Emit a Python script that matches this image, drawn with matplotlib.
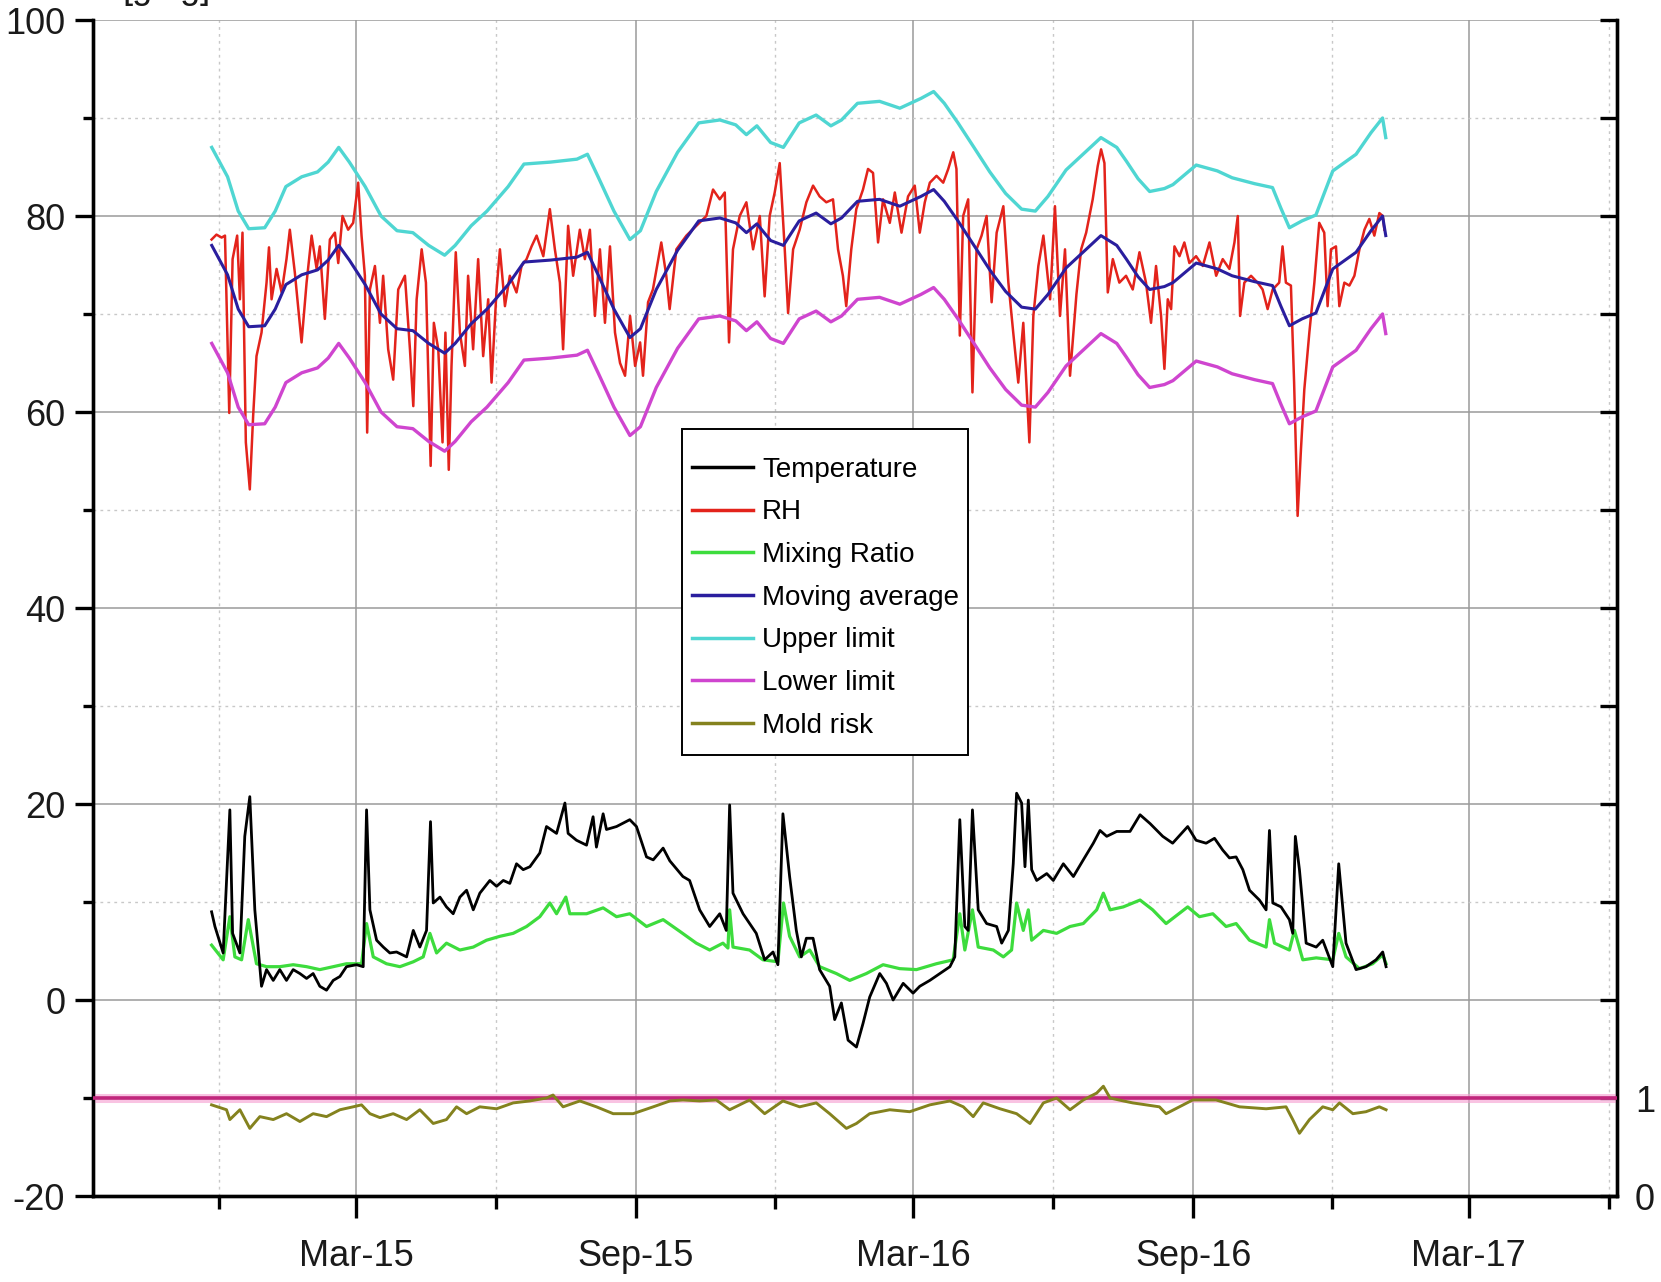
import numpy as np
import pandas as pd
import matplotlib
matplotlib.use("Agg")
import matplotlib.pyplot as plt
import matplotlib.dates as mdates
from matplotlib.patches import Rectangle
from matplotlib.ticker import MultipleLocator, FuncFormatter

plt.rcParams['font.family'] = ['Liberation Sans', 'DejaVu Sans']

# ---------------- data (days since 2014-12-01) ----------------
ORIGIN = pd.Timestamp("2014-12-01")

rh_days = [-4.8, -1.6, 1.8, 4, 6.8, 9, 12, 13.8, 15.5, 17.7, 20.3, 22.5, 24.7, 28, 31.3, 32.9, 34.6, 37.9,
           41.2, 44.4, 46.6, 49.9, 54.3, 57.6, 60.9, 64.2, 66.3, 69.6, 72.9, 76.2, 78.4, 81.2, 84.9, 88.2,
           91.5, 93.7, 95.9, 97.4, 99.2, 102.5, 105.8, 107.9, 111.2, 114.5, 117.8, 122.2, 125.5, 127.7,
           129.9, 133.2, 136, 139.1, 141.2, 144.1, 146.9, 148.8, 151, 152.8, 155.6, 158.3, 161.6, 163.7,
           167, 170.3, 173.6, 176.9, 179.1, 182.4, 184.6, 187.9, 191.1, 195.5, 198.8, 202.1, 205.4, 208.7,
           213.1, 217.4, 220.7, 224, 226.1, 229.4, 232.7, 237.1, 240.4, 243.7, 247, 250.3, 253.6, 256.9,
           260.2, 263.5, 266.8, 270.1, 273.4, 276.7, 278.6, 281.9, 285.1, 290.6, 293.9, 296.1, 300.5, 307.1,
           313.6, 320.2, 324.6, 329, 332.3, 335.1, 337.7, 342.1, 346.5, 350.9, 355.3, 358.5, 361.8, 365.1,
           368.4, 371.7, 373.9, 377.2, 381.5, 385.9, 390.3, 394.6, 399, 403.4, 406.7, 409.9, 412.1, 415.4,
           418.7, 423.1, 426.4, 429.7, 433, 436.3, 440.7, 444, 448.4, 452.7, 457.1, 460.4, 463.7, 467,
           471.4, 475.8, 479.1, 482.4, 484.5, 486.7, 488.9, 492.2, 495, 497.7, 501, 504.3, 507.6, 510.9,
           515.3, 518.6, 521.8, 525.1, 528.4, 532.4, 535, 538.3, 541.6, 546, 549.2, 552.5, 555.8, 559.1,
           563.3, 566.4, 569.7, 574, 577.3, 579.5, 581.7, 583.9, 587.2, 591.5, 595.9, 600.3, 604.7, 609,
           612.3, 615.6, 618.9, 621.1, 623.3, 625.5, 627.7, 631, 634.2, 637.5, 641.9, 646.3, 650.7, 655.1,
           659.4, 663.8, 667.1, 669.3, 670.8, 673.6, 678, 682.3, 685.6, 688.9, 692.2, 696.5, 698.7, 700.9,
           704.2, 706.3, 708.6, 710.8, 713, 716.3, 719.6, 722.8, 726.1, 728.3, 730.5, 733.8, 736, 739.3,
           742.6, 745.9, 749.2, 752.5, 755.7, 759, 762.3, 764.5, 765.6]
rh_values = [77.6, 78.1, 77.8, 78.0, 59.9, 75.6, 78.0, 71.5, 78.3, 56.9, 52.1, 59.6, 65.7, 68.1, 73.2, 76.8, 71.5, 74.6,
             72.2, 75.6, 78.6, 74.2, 67.1, 73.2, 78.0, 74.6, 76.9, 69.5, 77.6, 78.3, 75.2, 80.0, 78.6, 79.3,
             83.4, 78.0, 73.9, 57.9, 72.5, 74.9, 69.1, 73.9, 66.4, 63.3, 72.5, 73.9, 66.4, 60.6,
             71.5, 76.6, 73.2, 54.5, 69.1, 66.4, 56.9, 68.1, 54.1, 64.7, 76.3, 68.1, 64.7, 73.9,
             66.4, 75.6, 65.7, 71.5, 63.0, 72.5, 76.6, 70.8, 73.9, 72.2, 74.9, 75.6, 76.9, 78.0,
             75.9, 80.7, 76.6, 73.2, 66.4, 79.0, 73.9, 78.6, 75.6, 78.6, 69.8, 76.6, 69.1, 76.9,
             68.1, 65.0, 63.7, 69.8, 64.7, 67.1, 63.7, 71.2, 72.5, 77.3, 73.9, 70.5, 76.6, 78.0,
             79.0, 80.0, 82.7, 81.7, 82.4, 67.1, 76.6, 80.0, 81.4, 76.6, 80.0, 71.8, 80.0, 82.4,
             85.4, 76.6, 70.1, 76.6, 78.6, 81.4, 83.1, 82.0, 81.4, 81.7, 76.6, 73.9, 70.8, 76.6,
             80.7, 82.7, 84.8, 84.4, 77.3, 81.7, 79.3, 82.4, 78.3, 82.0, 83.1, 78.3, 81.4, 83.4,
             84.1, 83.4, 84.8, 86.5, 84.8, 67.8, 80.0, 81.7, 62.0, 76.6, 78.0, 80.0, 71.2, 78.3,
             81.0, 73.2, 68.1, 63.0, 69.1, 56.9, 69.8, 74.9, 78.0, 71.5, 81.0, 69.8, 76.6, 63.7,
             72.0, 76.6, 78.3, 81.7, 85.1, 86.8, 85.4, 72.2, 75.6, 73.2, 73.9, 72.5, 76.3, 73.2,
             69.1, 74.9, 69.8, 64.4, 71.5, 70.5, 76.9, 75.9, 77.3, 75.2, 75.9, 74.9, 77.3, 73.9,
             75.6, 74.6, 77.3, 80.0, 69.8, 73.2, 73.9, 73.2, 72.5, 70.5, 72.5, 73.2, 76.9, 73.2,
             72.9, 63.0, 49.4, 56.2, 62.3, 68.1, 73.2, 79.3, 78.3, 70.8, 76.6, 76.9, 70.8, 73.2,
             72.9, 73.9, 76.6, 78.6, 79.7, 78.0, 80.3, 80.0, 78.6]

ma_days = [-4.7, 5.7, 12.7, 19.6, 30.1, 37, 44, 54.4, 64.8, 71.8, 78.7, 85.7, 96.1, 106.5, 117, 127.4,
           137.8, 148.3, 155.2, 165.7, 176.1, 190, 200.4, 217.8, 235.2, 242.1, 249.1, 259.5, 270, 276.9,
           287.3, 301.3, 315.2, 329.1, 339.5, 346.5, 353.4, 362.4, 370.8, 381.2, 392.3, 402, 409, 419.5,
           434, 447.3, 461.2, 469.5, 476.5, 485.5, 496, 506.4, 516.8, 527.3, 536.3, 544.6, 556.5, 569,
           579.4, 589.8, 596.1, 603.8, 611.4, 621.1, 626.7, 642, 655.9, 665.6, 680.3, 692.1, 697.6,
           703.2, 711.5, 720.6, 731.7, 747, 756.8, 764.4, 766.5]
ma_values = [77.0, 74.0, 70.5, 68.7, 68.8, 70.5, 73.0, 74.0, 74.5, 75.5, 77.0, 75.5, 73.0, 70.0, 68.5, 68.3,
             67.0, 66.0, 67.0, 69.0, 70.5, 73.0, 75.3, 75.5, 75.8, 76.3, 74.0, 70.5, 67.6, 68.5,
             72.5, 76.5, 79.5, 79.8, 79.3, 78.3, 79.2, 77.5, 77.0, 79.5, 80.3, 79.2, 79.8, 81.5,
             81.7, 81.0, 82.0, 82.7, 81.5, 79.5, 77.0, 74.5, 72.3, 70.7, 70.5, 72.0, 74.7, 76.5,
             78.0, 77.0, 75.6, 73.8, 72.5, 72.8, 73.2, 75.2, 74.6, 73.9, 73.3, 72.9, 70.8,
             68.8, 69.5, 70.1, 74.6, 76.3, 78.5, 80.0, 78.0]
upper_values = [87.0, 84.0, 80.5, 78.7, 78.8, 80.5, 83.0, 84.0, 84.5, 85.5, 87.0, 85.5, 83.0, 80.0, 78.5, 78.3,
                77.0, 76.0, 77.0, 79.0, 80.5, 83.0, 85.3, 85.5, 85.8, 86.3, 84.0, 80.5, 77.6, 78.5,
                82.5, 86.5, 89.5, 89.8, 89.3, 88.3, 89.2, 87.5, 87.0, 89.5, 90.3, 89.2, 89.8, 91.5,
                91.7, 91.0, 92.0, 92.7, 91.5, 89.5, 87.0, 84.5, 82.3, 80.7, 80.5, 82.0, 84.7, 86.5,
                88.0, 87.0, 85.6, 83.8, 82.5, 82.8, 83.2, 85.2, 84.6, 83.9, 83.3, 82.9, 80.8,
                78.8, 79.5, 80.1, 84.6, 86.3, 88.5, 90.0, 88.0]
lower_values = [67.0, 64.0, 60.5, 58.7, 58.8, 60.5, 63.0, 64.0, 64.5, 65.5, 67.0, 65.5, 63.0, 60.0, 58.5, 58.3,
                57.0, 56.0, 57.0, 59.0, 60.5, 63.0, 65.3, 65.5, 65.8, 66.3, 64.0, 60.5, 57.6, 58.5,
                62.5, 66.5, 69.5, 69.8, 69.3, 68.3, 69.2, 67.5, 67.0, 69.5, 70.3, 69.2, 69.8, 71.5,
                71.7, 71.0, 72.0, 72.7, 71.5, 69.5, 67.0, 64.5, 62.3, 60.7, 60.5, 62.0, 64.7, 66.5,
                68.0, 67.0, 65.6, 63.8, 62.5, 62.8, 63.2, 65.2, 64.6, 63.9, 63.3, 62.9, 60.8,
                58.8, 59.5, 60.1, 64.6, 66.3, 68.5, 70.0, 68.0]

temp_days = [-4.8, -2.6, 2.8, 7.2, 9, 13.8, 17, 20.3, 23.6, 28, 31.3, 35.7, 40, 44.4, 48.8, 53.2, 57.6, 61.9,
             66.3, 70.7, 75.1, 79.5, 83.8, 90.4, 94.8, 97, 99.2, 103.6, 108, 112.3, 116.7, 123.3, 127.7, 132,
             136.4, 139, 140.8, 145.2, 149.5, 153.9, 158.3, 162.7, 167.1, 171.4, 178, 182.4, 186.8, 191.1,
             195.5, 199.9, 204.3, 210.8, 215.2, 221.8, 227.3, 229.4, 234.9, 241.5, 245.8, 248, 252.4, 254.6,
             261.2, 269.9, 274.3, 280.9, 285.3, 291.8, 296.2, 304.8, 309.2, 315.8, 322.4, 329, 333.3, 335.5,
             337.7, 344.3, 353, 358.5, 364, 367.2, 370.5, 374.9, 379.3, 382.6, 385.9, 390.3, 394.6, 401.2,
             404.5, 408.9, 413.3, 418.8, 423.1, 427.5, 434.1, 438.5, 442.9, 449.5, 456, 460.4, 467, 473.6,
             480.2, 483.4, 486.7, 490, 492.2, 495, 498.8, 504.3, 510.9, 514.2, 518.6, 521.8, 524, 527.3,
             529.5, 531.7, 533.9, 537.2, 543.8, 548.1, 554.7, 561.3, 567.8, 574.4, 578.8, 583.2, 589.8,
             598.5, 605.1, 611.7, 620, 626.5, 636.4, 641.9, 648.5, 654, 659.4, 663.8, 668.2, 672.6, 677,
             683.5, 687.9, 690.1, 692.3, 697.7, 703.2, 705.4, 707.1, 709.8, 714.2, 720.8, 725.1, 731.7,
             735.6, 740.4, 747, 753.5, 760.1, 764.5, 766.7]
temp_values = [9.0, 7.5, 4.8, 19.4, 6.8, 4.8, 16.7, 20.75, 9.2, 1.4, 3.1, 2.0, 3.1, 2.0, 3.1, 2.7, 2.2, 2.7,
               1.4, 1.0, 2.0, 2.4, 3.4, 3.6, 3.4, 19.4, 9.2, 6.1, 5.4, 4.8, 4.9, 4.4, 7.1, 5.4,
               7.1, 18.2, 9.9, 10.5, 9.5, 8.8, 10.5, 11.2, 9.2, 10.9, 12.2, 11.6, 12.2, 11.9,
               13.9, 13.3, 13.6, 15.0, 17.7, 17.0, 20.1, 17.0, 16.3, 15.8, 18.7, 15.6, 19.0, 17.4,
               17.7, 18.4, 17.7, 14.6, 14.3, 15.5, 14.2, 12.6, 12.2, 9.2, 7.5, 8.8, 7.1, 19.9,
               10.9, 8.8, 6.8, 4.1, 4.9, 3.6, 19.0, 12.6, 7.1, 4.4, 6.3, 6.3, 3.1, 1.4,
               -2.0, -0.3, -4.1, -4.8, -2.4, 0.3, 2.7, 1.7, 0.0, 1.7, 0.7, 1.4, 2.0, 2.7,
               3.4, 4.4, 18.4, 7.5, 7.1, 19.4, 9.2, 7.8, 7.5, 5.8, 7.1, 13.9, 21.1, 20.1,
               13.6, 20.4, 13.3, 12.2, 12.9, 12.2, 13.9, 12.6, 14.3, 16.0, 17.3, 16.7, 17.2,
               17.2, 18.9, 18.0, 16.7, 16.0, 17.7, 16.3, 16.0, 16.5, 15.3, 14.5, 14.6, 13.3, 11.2,
               10.2, 9.2, 17.3, 9.9, 9.5, 8.2, 6.8, 16.7, 13.3, 5.8, 5.4, 6.1, 3.4,
               13.9, 5.8, 3.1, 3.4, 4.1, 4.9, 3.4]

mix_days = [-4.8, 2.8, 7.2, 10.5, 14.9, 19.3, 24.7, 31.3, 40, 48.8, 57.6, 66.3, 75.1, 83.8, 93.7, 97, 101.4,
            110.1, 118.9, 127.7, 134.2, 138.6, 143, 149.5, 158.3, 167.1, 175.8, 184.6, 193.3, 202.1, 210.8,
            217.4, 221.8, 227.9, 230.5, 241.5, 252.4, 261.2, 269.9, 280.9, 291.8, 302.8, 313.6, 322.4,
            331.1, 334.4, 335.5, 337.7, 348.6, 357.4, 367.2, 370.9, 374.9, 381.5, 388.1, 394.6, 405.6,
            414.4, 425.3, 436.3, 447.2, 458.2, 471.3, 482.3, 486.7, 490, 495, 498.8, 508.7, 515.3, 520.7,
            524, 528.4, 531.7, 533.9, 541.6, 550.3, 559.1, 567.8, 576.6, 581, 585.4, 594.1, 605.1, 613.4,
            622.2, 636.4, 644.1, 652.9, 661.6, 668.2, 677, 687.9, 690.1, 693.4, 703.2, 706.5, 712, 720.8,
            731.7, 735.6, 740.4, 749.2, 757.9, 764.5, 766.7]
mix_values = [5.6, 4.1, 8.5, 4.4, 4.1, 8.2, 3.7, 3.4, 3.4, 3.6, 3.4, 3.1, 3.4, 3.7, 3.7, 7.8, 4.4,
              3.7, 3.4, 3.9, 4.4, 6.8, 4.8, 5.8, 5.1, 5.4, 6.1, 6.5, 6.8, 7.5, 8.5,
              9.9, 8.8, 10.5, 8.8, 8.8, 9.4, 8.5, 8.8, 7.5, 8.2, 7.0, 5.8, 5.1,
              5.8, 5.3, 9.2, 5.4, 5.1, 4.1, 3.9, 9.9, 6.5, 4.4, 5.1, 3.4, 2.7,
              2.0, 2.7, 3.6, 3.2, 3.1, 3.7, 4.1, 8.8, 5.1, 9.2, 5.4, 5.1, 4.4, 5.1,
              9.9, 7.1, 9.2, 6.1, 7.1, 6.8, 7.5, 7.8, 9.2, 10.9, 9.2, 9.5, 10.2, 9.2,
              7.8, 9.5, 8.5, 8.8, 7.5, 7.8, 6.1, 5.4, 8.2, 5.8, 5.1, 7.1, 4.1, 4.3,
              4.1, 6.8, 4.4, 3.2, 3.7, 4.6, 3.7]

mold_days = [-4.8, 5, 7.2, 13.8, 20.3, 26.9, 35.7, 44.4, 53.2, 61.9, 70.7, 79.5, 88.2, 93.7, 99.2, 105.8,
             114.5, 123.3, 132, 140.8, 149.5, 156.1, 162.7, 171.4, 182.4, 193.3, 204.3, 215.2, 219.5, 226.1,
             237.1, 248, 259, 272.1, 285.3, 296.3, 304.8, 315.8, 326.7, 335.5, 348.6, 358.5, 370.5, 381.5,
             392.4, 401.2, 412.2, 418.8, 427.5, 440.7, 453.8, 467, 480.2, 489, 495.5, 502.1, 513.1, 524,
             532.8, 541.6, 550.3, 559.1, 567.8, 576.6, 581, 585.4, 594.1, 600.3, 617.8, 622.2, 639.7, 655,
             670.4, 687.9, 701, 705.4, 709.8, 716.4, 725.1, 731.7, 736.1, 744.9, 753.5, 762.3, 766.7]
mold_values = [0.93, 0.88, 0.78, 0.88, 0.69, 0.81, 0.78, 0.84, 0.76, 0.84, 0.81, 0.88, 0.91, 0.93, 0.84, 0.80,
               0.84, 0.78, 0.88, 0.74, 0.78, 0.91, 0.84, 0.91, 0.89, 0.95, 0.97, 1.00, 1.03, 0.91,
               0.97, 0.91, 0.84, 0.84, 0.91, 0.97, 0.98, 0.97, 0.98, 0.88, 0.98, 0.84, 0.97, 0.91,
               0.95, 0.84, 0.69, 0.74, 0.84, 0.88, 0.86, 0.93, 0.97, 0.91, 0.81, 0.95, 0.89, 0.84,
               0.74, 0.95, 1.00, 0.88, 0.98, 1.05, 1.12, 1.00, 0.97, 0.95, 0.91, 0.84, 0.98, 0.98,
               0.91, 0.89, 0.91, 0.78, 0.64, 0.78, 0.91, 0.88, 0.95, 0.84, 0.86, 0.91, 0.88]

mold_threshold = 1.0

legend_labels = ["Temperature", "RH", "Mixing Ratio", "Moving average",
                 "Upper limit", "Lower limit", "Mold risk"]


def to_dates(days):
    return ORIGIN + pd.to_timedelta(np.asarray(days, dtype=float), unit="D")


# ---------------- figure ----------------
fig = plt.figure(figsize=(16.61, 12.82), dpi=100)
ax = fig.add_axes([93 / 1661, 1 - 1196 / 1282, (1617 - 93) / 1661, (1196 - 20) / 1282])
ax2 = ax.twinx()

FS = 26
colors = {
    "Temperature": "#000000",
    "RH": "#e3231b",
    "Mixing Ratio": "#3ddc3d",
    "Moving average": "#2a1e9e",
    "Upper limit": "#4fd6d2",
    "Lower limit": "#cf45cf",
    "Mold risk": "#84821e",
}

h_temp, = ax.plot(to_dates(temp_days), temp_values, color=colors["Temperature"], lw=2.0, zorder=5)
h_rh, = ax.plot(to_dates(rh_days), rh_values, color=colors["RH"], lw=1.8, zorder=3)
h_mix, = ax.plot(to_dates(mix_days), mix_values, color=colors["Mixing Ratio"], lw=2.3, zorder=4)
h_ma, = ax.plot(to_dates(ma_days), ma_values, color=colors["Moving average"], lw=2.2, zorder=4)
h_up, = ax.plot(to_dates(ma_days), upper_values, color=colors["Upper limit"], lw=2.4, zorder=3)
h_lo, = ax.plot(to_dates(ma_days), lower_values, color=colors["Lower limit"], lw=2.4, zorder=3)

ax2.axhline(mold_threshold, color="#f59bd0", lw=6.5, alpha=0.6, zorder=2)
ax2.axhline(mold_threshold, color="#c0267c", lw=2.6, zorder=3)
h_mold, = ax2.plot(to_dates(mold_days), mold_values, color=colors["Mold risk"], lw=2.1, zorder=4)

# ---------------- axes styling ----------------
x0 = ORIGIN + pd.Timedelta(days=-82.7)
x1 = ORIGIN + pd.Timedelta(days=918.4)
ax.set_xlim(x0, x1)
ax.set_ylim(-20, 100)
ax2.set_ylim(0, 12)

ax.xaxis.set_major_locator(mdates.MonthLocator(bymonth=[3, 9]))
ax.xaxis.set_minor_locator(mdates.MonthLocator(bymonth=[6, 12]))
ax.xaxis.set_major_formatter(mdates.DateFormatter("%b-%y"))
ax.yaxis.set_major_locator(MultipleLocator(20))
ax.yaxis.set_minor_locator(MultipleLocator(10))
ax.yaxis.set_major_formatter(FuncFormatter(lambda v, p: f"{v:.0f}"))

ax2.yaxis.set_major_locator(MultipleLocator(1))
ax2.yaxis.set_major_formatter(FuncFormatter(lambda v, p: f"{v:.0f}" if v in (0, 1) else ""))

ax.grid(True, which="major", color="#9a9a9a", lw=1.1, ls="-", zorder=0)
ax.grid(True, which="minor", color="#c8c8c8", lw=1.0, ls=(0, (2, 3)), zorder=0)
ax.set_axisbelow(True)

for a in (ax, ax2):
    a.spines["left"].set_linewidth(2.4)
    a.spines["bottom"].set_linewidth(2.4)
    a.spines["right"].set_linewidth(2.4)
    a.spines["top"].set_visible(False)
    a.patch.set_visible(False)
ax.patch.set_visible(True)
ax.patch.set_facecolor("white")

ax.tick_params(axis="y", which="major", direction="out", length=13, width=2.4, labelsize=FS, pad=7,
               right=False)
ax.tick_params(axis="y", which="minor", direction="out", length=7, width=2.4, right=False)
ax.tick_params(axis="x", which="major", direction="out", length=16, width=2.4, labelsize=FS, pad=15,
               top=False)
ax.tick_params(axis="x", which="minor", direction="out", length=9, width=2.4, top=False)
ax2.tick_params(axis="y", which="major", direction="in", length=12, width=2.4, labelsize=FS, pad=13)

for lab in ax.get_xticklabels() + ax.get_yticklabels() + ax2.get_yticklabels():
    lab.set_color("#1a1a1a")

# ---------------- legend ----------------
frame = Rectangle((0.3865, 0.375), 0.1876, 0.2772, transform=ax2.transAxes,
                  facecolor="white", edgecolor="black", lw=1.4, zorder=9)
ax2.add_patch(frame)

handles = [h_temp, h_rh, h_mix, h_ma, h_up, h_lo, h_mold]
leg = ax2.legend(handles, legend_labels, loc="upper left", bbox_to_anchor=(0.3928, 0.6286),
                 bbox_transform=ax.transAxes, fontsize=20, frameon=False,
                 handlelength=2.2, handletextpad=0.33,
                 labelspacing=0.60, borderpad=0.0, borderaxespad=0)
leg.set_zorder(10)
for line in leg.get_lines():
    line.set_linewidth(2.5)

# clipped label remnant at the very top edge
fig.text(122 / 1661, 1 + 1.6 / 1282, "[g/kg]", fontsize=FS, va="baseline", ha="left", color="#1a1a1a")

fig.savefig("out.png", dpi=100)
